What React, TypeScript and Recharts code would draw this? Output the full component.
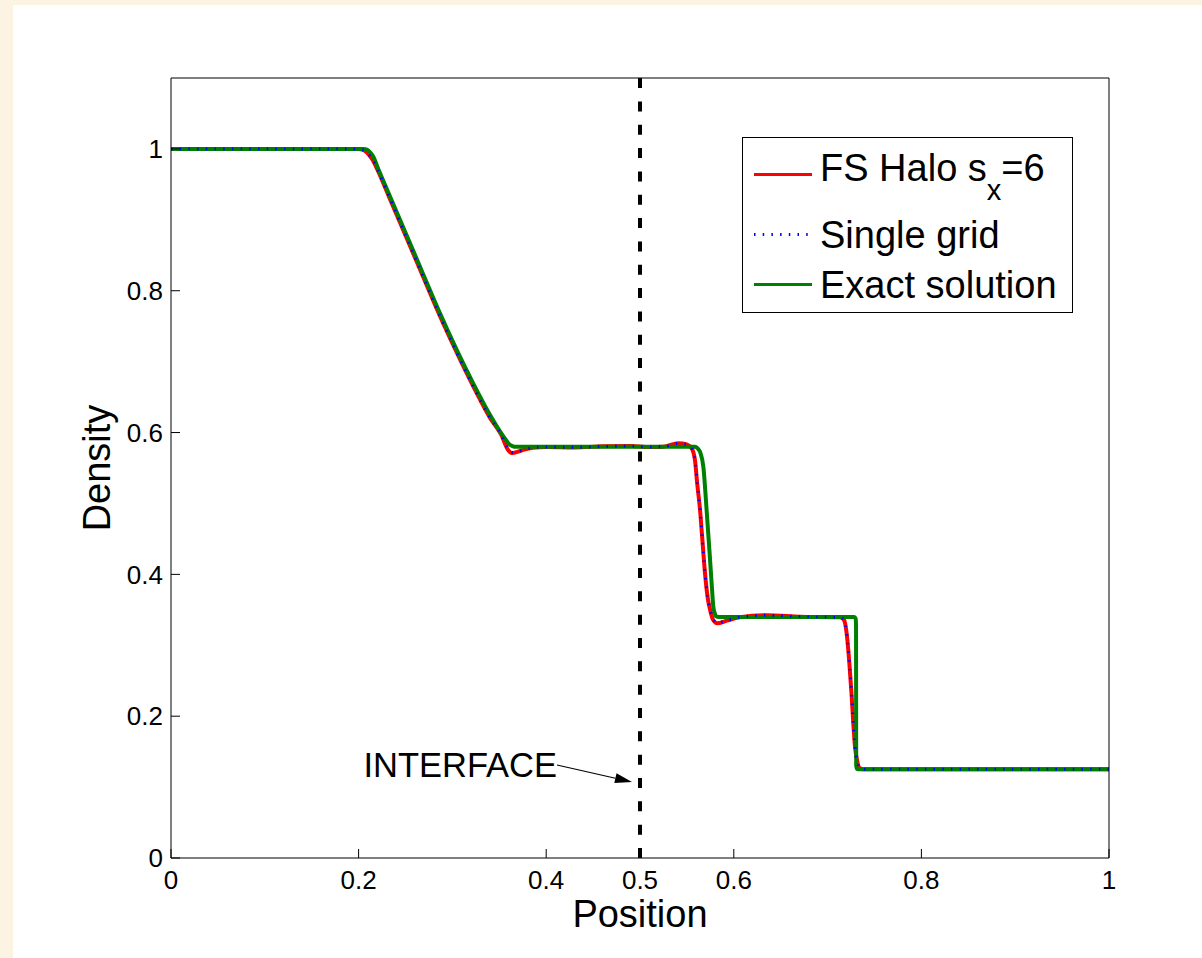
import { LineChart, Line, XAxis, YAxis, ReferenceLine, Legend } from 'recharts'

const FONT = '"Liberation Sans", Arial, Helvetica, sans-serif'

const xTicks = [0, 0.2, 0.4, 0.5, 0.6, 0.8, 1]
const yTicks = [0, 0.2, 0.4, 0.6, 0.8, 1]

// exact solution
const exactX = [0, 0.1, 0.2, 0.205, 0.209, 0.2125, 0.2157, 0.22, 0.2335, 0.2513,
  0.269, 0.2868, 0.3046, 0.3223, 0.34, 0.3579, 0.361, 0.364, 0.368, 0.4,
  0.45, 0.5, 0.55, 0.5585, 0.5603, 0.5625, 0.5645, 0.5675, 0.571, 0.574,
  0.5764, 0.5782, 0.5797, 0.581, 0.584, 0.6, 0.65, 0.7, 0.726, 0.7285,
  0.7298, 0.7303, 0.7305, 0.7312, 0.7325, 0.8, 0.9, 1]
const exactY = [1, 1, 1, 1, 0.999, 0.995, 0.989, 0.975, 0.933, 0.878,
  0.823, 0.768, 0.7165, 0.669, 0.625, 0.588, 0.583, 0.581, 0.58, 0.58,
  0.58, 0.58, 0.58, 0.58, 0.579, 0.576, 0.571, 0.552, 0.491, 0.434,
  0.387, 0.354, 0.345, 0.341, 0.34, 0.34, 0.34, 0.34, 0.34, 0.34,
  0.338, 0.33, 0.13, 0.126, 0.125, 0.125, 0.125, 0.125]

// FS Halo s_x = 6
const haloX = [0, 0.1, 0.2, 0.204, 0.208, 0.212, 0.2157, 0.22, 0.2335, 0.2513,
  0.269, 0.2868, 0.3046, 0.3223, 0.34, 0.352, 0.3596, 0.3632, 0.366, 0.3756,
  0.386, 0.4, 0.43, 0.46, 0.49, 0.51, 0.525, 0.541, 0.5498, 0.555,
  0.5586, 0.561, 0.564, 0.5665, 0.5693, 0.572, 0.5752, 0.578, 0.5825, 0.5924,
  0.6066, 0.635, 0.6706, 0.7132, 0.7175, 0.7203, 0.7232, 0.7257, 0.7274, 0.7292,
  0.7317, 0.7345, 0.74, 0.8, 0.9, 1]
const haloY = [1, 1, 1, 0.999, 0.996, 0.99, 0.983, 0.971, 0.929, 0.874,
  0.819, 0.764, 0.713, 0.665, 0.621, 0.597, 0.575, 0.571, 0.5715, 0.5755,
  0.5787, 0.5795, 0.579, 0.5805, 0.581, 0.5795, 0.58, 0.585, 0.5834, 0.578,
  0.561, 0.528, 0.491, 0.4485, 0.4015, 0.3686, 0.3474, 0.3357, 0.331, 0.3347,
  0.3394, 0.3423, 0.3404, 0.3394, 0.3357, 0.317, 0.2746, 0.2275, 0.19, 0.157,
  0.1358, 0.1265, 0.125, 0.125, 0.125, 0.125]

// single grid
const gridX = haloX
const gridY = [1, 1, 1, 0.999, 0.996, 0.99, 0.983, 0.971, 0.93, 0.874,
  0.819, 0.764, 0.713, 0.665, 0.621, 0.597, 0.576, 0.572, 0.572, 0.5755,
  0.5787, 0.5795, 0.5792, 0.5803, 0.5808, 0.5797, 0.58, 0.5845, 0.5832, 0.578,
  0.562, 0.529, 0.492, 0.449, 0.402, 0.369, 0.348, 0.336, 0.3315, 0.335,
  0.3395, 0.3422, 0.3404, 0.3394, 0.3358, 0.318, 0.275, 0.228, 0.19, 0.157,
  0.136, 0.1265, 0.125, 0.125, 0.125, 0.125]

const toPts = (xs: number[], ys: number[]) => xs.map((x, i) => ({ x, y: ys[i] }))

const exactData = toPts(exactX, exactY)
const haloData = toPts(haloX, haloY)
const gridData = toPts(gridX, gridY)

const fmt = (v: number) => String(v)

function InterfaceNote(props: any) {
  const vb = props.viewBox || { x: 640, y: 78, width: 0, height: 780 }
  const tipX = vb.x - 8
  const tipY = vb.y + vb.height - 76
  const sx = tipX - 75
  const sy = tipY - 17
  const len = Math.hypot(tipX - sx, tipY - sy)
  const ux = (tipX - sx) / len
  const uy = (tipY - sy) / len
  const bx = tipX - 17 * ux
  const by = tipY - 17 * uy
  const pts = `${tipX},${tipY} ${bx - 5 * uy},${by + 5 * ux} ${bx + 5 * uy},${by - 5 * ux}`
  return (
    <g>
      <text x={sx} y={tipY - 5} textAnchor="end" fontSize={34.5} fontFamily={FONT} fill="#000">INTERFACE</text>
      <line x1={sx} y1={sy} x2={bx} y2={by} stroke="#000" strokeWidth={1.2} />
      <polygon points={pts} fill="#000" />
    </g>
  )
}

function DensityLabel(props: any) {
  const vb = props.viewBox || { x: 170, y: 78, width: 1, height: 780 }
  const x = vb.x + vb.width - 61
  const y = vb.y + vb.height / 2
  return (
    <text x={x} y={y} transform={`rotate(-90, ${x}, ${y})`} textAnchor="middle" fontSize={38} fontFamily={FONT} fill="#000">
      Density
    </text>
  )
}

function PositionLabel(props: any) {
  const vb = props.viewBox || { x: 171, y: 858, width: 938, height: 1 }
  return (
    <text x={vb.x + vb.width / 2} y={vb.y + 69} textAnchor="middle" fontSize={38} fontFamily={FONT} fill="#000">
      Position
    </text>
  )
}

function LegendBox() {
  return (
    <svg width={331} height={176} style={{ display: 'block' }}>
      <rect x={0.5} y={0.5} width={330} height={175} fill="#fff" stroke="#000" />
      <line x1={12} y1={37.5} x2={70} y2={37.5} stroke="#ff0000" strokeWidth={3} />
      <text x={78} y={44} fontSize={38} fontFamily={FONT} fill="#000">
        FS Halo s<tspan fontSize={29} dy={19}>x</tspan><tspan dy={-19}>=6</tspan>
      </text>
      <line x1={12} y1={97.5} x2={70} y2={97.5} stroke="#0000ff" strokeWidth={3} strokeDasharray="1.5 7.2" />
      <text x={78} y={110.5} fontSize={38} fontFamily={FONT} fill="#000">Single grid</text>
      <line x1={12} y1={147.5} x2={70} y2={147.5} stroke="#008000" strokeWidth={3} />
      <text x={78} y={161} fontSize={38} fontFamily={FONT} fill="#000">Exact solution</text>
    </svg>
  )
}

const tickStyle = { fill: '#000', fontSize: 26, fontFamily: FONT }

export default function App() {
  return (
    <div style={{ position: 'absolute', left: 0, top: 0, width: 1202, height: 958, background: '#fdf3e3' }}>
      <div style={{ position: 'absolute', left: 13, top: 5, width: 1189, height: 953, background: '#fff' }} />
      <div style={{ position: 'absolute', left: 0, top: 0 }}>
        <LineChart width={1202} height={958} margin={{ top: 77, right: 92, bottom: 99, left: 170 }}>
          <XAxis
            xAxisId="b" type="number" dataKey="x" domain={[0, 1]} ticks={xTicks} interval={0}
            height={1} tickSize={-9} tickMargin={22} tickFormatter={fmt} tick={tickStyle}
            axisLine={{ stroke: '#000' }} tickLine={{ stroke: '#000' }} label={PositionLabel}
          />
          <XAxis
            xAxisId="t" orientation="top" type="number" dataKey="x" domain={[0, 1]} ticks={xTicks} interval={0}
            height={1} tickSize={-9} tick={false}
            axisLine={{ stroke: '#000' }} tickLine={{ stroke: '#000' }}
          />
          <YAxis
            yAxisId="l" type="number" domain={[0, 1.1]} ticks={yTicks} interval={0}
            width={1} tickSize={-9} tickMargin={17} tickFormatter={fmt} tick={tickStyle}
            axisLine={{ stroke: '#000' }} tickLine={{ stroke: '#000' }} label={DensityLabel}
          />
          <YAxis
            yAxisId="r" orientation="right" type="number" domain={[0, 1.1]} ticks={yTicks} interval={0}
            width={1} tickSize={-9} tick={false}
            axisLine={{ stroke: '#000' }} tickLine={{ stroke: '#000' }}
          />
          <ReferenceLine
            xAxisId="b" yAxisId="l" x={0.5} stroke="#000" strokeWidth={4}
            strokeDasharray="10 13.33" label={InterfaceNote}
          />
          <Line
            xAxisId="b" yAxisId="l" data={haloData} dataKey="y" name="FS Halo" type="monotoneX"
            stroke="#ff0000" strokeWidth={4} dot={false} activeDot={false} isAnimationActive={false}
          />
          <Line
            xAxisId="b" yAxisId="l" data={exactData} dataKey="y" name="Exact solution" type="monotoneX"
            stroke="#008000" strokeWidth={4} dot={false} activeDot={false} isAnimationActive={false}
          />
          <Line
            xAxisId="b" yAxisId="l" data={gridData} dataKey="y" name="Single grid" type="monotoneX"
            stroke="#0000ff" strokeWidth={3} strokeDasharray="1.5 7.2" dot={false} activeDot={false}
            isAnimationActive={false}
          />
          <Legend
            layout="vertical" align="center" verticalAlign="middle" content={LegendBox}
            wrapperStyle={{ left: 742, top: 137, width: 331, height: 176 }}
          />
        </LineChart>
      </div>
    </div>
  )
}
